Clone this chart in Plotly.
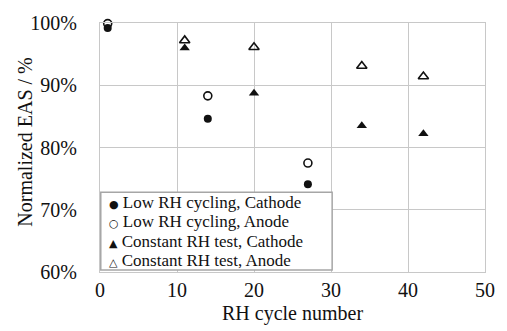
import plotly.graph_objects as go

# RH cycle numbers and normalized EAS (%) for each series
low_rh_cycles = [1, 14, 27]
low_rh_cathode = [99.2, 84.6, 74.1]
low_rh_anode = [99.9, 88.3, 77.5]

const_rh_cycles = [11, 20, 34, 42]
const_rh_cathode = [96.0, 88.7, 83.5, 82.2]
const_rh_anode = [97.2, 96.1, 93.1, 91.4]

x_ticks = [0, 10, 20, 30, 40, 50]
y_ticks = [60, 70, 80, 90, 100]
y_tick_text = [f"{v}%" for v in y_ticks]

serif = "Liberation Serif"
ink = "#111111"
grid = "#c8c8c8"
frame = "#a6a6a6"

# name, x, y, marker symbol, marker size, key glyph for the compact legend
series = [
    ("Low RH cycling, Cathode", low_rh_cycles, low_rh_cathode, "circle", 8, "\u25CF"),
    ("Low RH cycling, Anode", low_rh_cycles, low_rh_anode, "circle-open", 8, "\u25CB"),
    ("Constant RH test, Cathode", const_rh_cycles, const_rh_cathode, "triangle-up", 9, "\u25B2"),
    ("Constant RH test, Anode", const_rh_cycles, const_rh_anode, "triangle-up-open", 9, "\u25B3"),
]

fig = go.Figure()
for name, xs, ys, sym, sz, _ in series:
    fig.add_trace(go.Scatter(
        x=xs, y=ys, name=name, mode="markers", showlegend=False, cliponaxis=False,
        marker=dict(symbol=sym, size=sz, color=ink,
                    line=dict(color=ink, width=1.6 if "open" in sym else 0)),
    ))

# Compact legend box in the lower-left corner of the plot area
legend_rows_y = [0.280, 0.202, 0.124, 0.046]
fig.add_shape(type="rect", xref="paper", yref="paper",
              x0=0.002, x1=0.603, y0=0.008, y1=0.320,
              line=dict(color=frame, width=1.5), fillcolor="white", layer="above")
for (name, *_, glyph), ry in zip(series, legend_rows_y):
    fig.add_annotation(
        xref="paper", yref="paper", x=0.022, y=ry, xanchor="left", yanchor="middle",
        showarrow=False, align="left", borderpad=0,
        text=f'<span style="font-size:11px;font-family:DejaVu Sans">{glyph}</span> {name}',
        font=dict(family=serif, size=17, color=ink),
    )

# Axis titles placed close to the tick labels
fig.add_annotation(
    xref="paper", yref="paper", x=0.5, y=-0.166, xanchor="center", yanchor="middle",
    showarrow=False, text="RH cycle number", borderpad=0,
    font=dict(family=serif, size=20, color=ink),
)
fig.add_annotation(
    xref="paper", yref="paper", x=-0.197, y=0.52, xanchor="center", yanchor="middle",
    showarrow=False, text="Normalized EAS / %", textangle=-90, borderpad=0,
    font=dict(family=serif, size=20, color=ink),
)

fig.update_layout(
    width=507, height=331,
    margin=dict(l=100, r=12, t=22, b=59),
    paper_bgcolor="white", plot_bgcolor="white",
    font=dict(family=serif, size=20, color=ink),
    showlegend=False,
)

fig.update_xaxes(
    range=[0, 50], tickvals=x_ticks,
    showgrid=True, gridcolor=grid, gridwidth=1,
    showline=True, linecolor=grid, mirror=True, linewidth=1,
    zeroline=False, ticks="", ticklen=0,
    tickfont=dict(family=serif, size=20),
    ticklabelstandoff=0,
)
fig.update_yaxes(
    range=[60, 100], tickvals=y_ticks, ticktext=y_tick_text,
    showgrid=True, gridcolor=grid, gridwidth=1,
    showline=True, linecolor=grid, mirror=True, linewidth=1,
    zeroline=False, ticks="", ticklen=0,
    tickfont=dict(family=serif, size=20),
    ticklabelstandoff=18,
)

fig.write_html("out.html")
